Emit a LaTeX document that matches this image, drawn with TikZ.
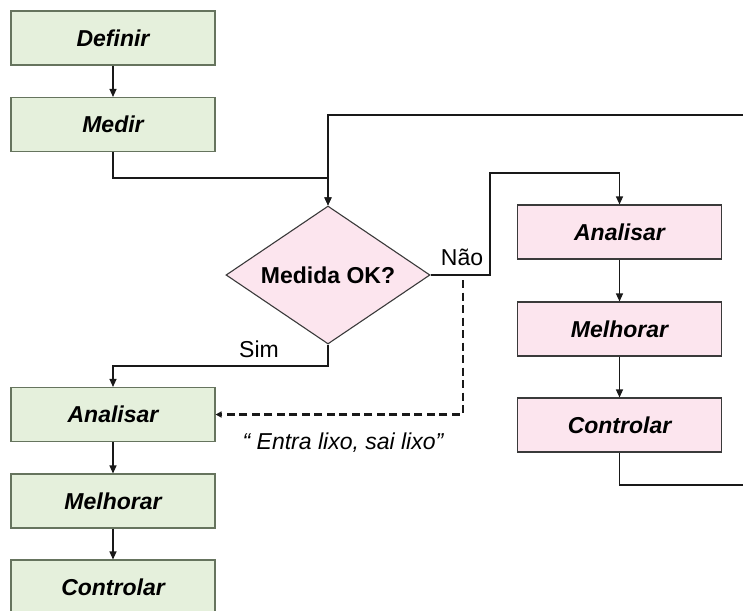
\documentclass[tikz,border=0pt]{standalone}
\usepackage{fontspec}
\setmainfont{Liberation Sans}
\usetikzlibrary{shapes.geometric,arrows.meta}
\definecolor{gfill}{HTML}{E5F0DC}
\definecolor{pfill}{HTML}{FCE5EE}
\definecolor{edge}{HTML}{3A3A3A}
\definecolor{gedge}{HTML}{66745E}
\begin{document}
\begin{tikzpicture}[x=1pt,y=-1pt,
  box/.style={draw=edge, line width=1.1pt, minimum width=204pt, minimum height=54pt, inner sep=0pt,
              font=\fontsize{23}{27}\selectfont\bfseries\itshape},
  gbox/.style={box, draw=gedge, fill=gfill},
  pbox/.style={box, fill=pfill},
  conn/.style={line width=1.2pt, draw=black!90, -{Triangle[length=8pt,width=7pt]}},
  dconn/.style={conn, line width=2.2pt, dash pattern=on 8pt off 4.5pt, -{Triangle[length=6pt,width=6pt]}},
  lab/.style={font=\fontsize{23}{27}\selectfont, inner sep=0pt}
]
\useasboundingbox (0,0) rectangle (743,610);
% left column
\node[gbox] (def) at (113,38) {Definir};
\node[gbox] (med) at (113,124.5) {Medir};
\node[diamond, draw=edge, line width=1.1pt, fill=pfill, inner sep=0pt, aspect=1.5,
      minimum width=204pt, minimum height=138pt,
      font=\fontsize{23}{27}\selectfont\bfseries] (dia) at (328,275) {Medida OK?};
\node[gbox] (al) at (113,414.5) {Analisar};
\node[gbox] (ml) at (113,501) {Melhorar};
\node[gbox] (cl) at (113,587) {Controlar};
% right column
\node[pbox] (ar) at (619.5,232) {Analisar};
\node[pbox] (mr) at (619.5,329) {Melhorar};
\node[pbox] (cr) at (619.5,425) {Controlar};
% bend points
\coordinate (b1) at (113,178);
\coordinate (n1) at (490,173);
\coordinate (s1) at (113,366);
\coordinate (d1) at (463,414.5);
\coordinate (lr) at (760,485);
\coordinate (ur) at (760,115);
% connectors
\draw[conn] (def) -- (med);
\draw[conn] (med) -- (b1) -| (dia);
\draw[conn] (cr) |- (lr) -- (ur) -| (dia);
\draw[conn] (dia.east) -| (n1) -| (ar);
\draw[conn] (ar) -- (mr);
\draw[conn] (mr) -- (cr);
\draw[conn] (dia.south) |- (s1) -- (al);
\draw[conn] (al) -- (ml);
\draw[conn] (ml) -- (cl);
\draw[dconn] (dia.east) -| (d1) -- (al.east);
% labels
\node[lab] (nao) at (462,257) {Não};
\node[lab] (sim) at (259,349) {Sim};
\node[lab, font=\fontsize{23}{27}\selectfont\itshape] (gigo) at (343,443) {“ Entra lixo, sai lixo”};
\end{tikzpicture}
\end{document}
